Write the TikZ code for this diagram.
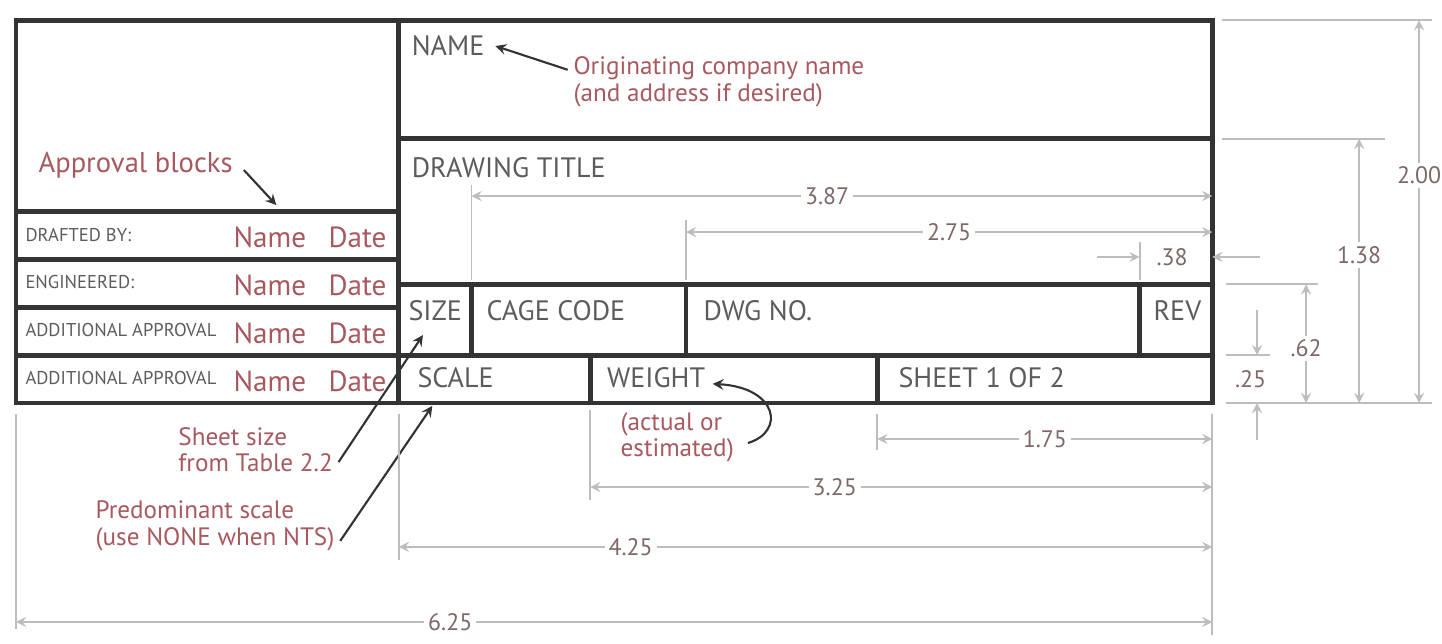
\documentclass[tikz,border=0pt]{standalone}
\usepackage{fontspec}
\setmainfont{PT Sans}
\usepackage{xcolor}
\usetikzlibrary{arrows, positioning}

\definecolor{framegray}{HTML}{333333}
\definecolor{labelgray}{HTML}{5C5C5C}
\definecolor{notered}{HTML}{A8585F}
\definecolor{dimgray}{HTML}{BDBDBD}
\definecolor{dimtext}{HTML}{7D6868}

\begin{document}
\begin{tikzpicture}[x=1in, y=1in,
    frame/.style={draw=framegray, line width=1.8pt},
    field/.style={anchor=west, inner sep=0pt, text=labelgray, font=\fontsize{10.6}{12}\selectfont},
    tiny/.style={anchor=west, inner sep=0pt, text=labelgray, font=\fontsize{7}{8}\selectfont},
    entry/.style={anchor=west, inner sep=0pt, text=notered, font=\fontsize{11}{12}\selectfont},
    note/.style={inner sep=0pt, text=notered, font=\fontsize{9.5}{10}\selectfont},
    arrow/.style={->, >=stealth, thick, draw=framegray},
    dimline/.style={<->, >=stealth, draw=dimgray, line width=0.7pt},
    extline/.style={draw=dimgray, line width=0.7pt},
    dimlabel/.style={fill=white, inner sep=1.5pt, text=dimtext, font=\fontsize{9}{10}\selectfont}
]
\useasboundingbox (-0.0836,-1.259) rectangle (7.450,2.1055);

% Title block frame
\draw[frame] (0,0) rectangle (6.25,2.00);
\draw[frame] (2.00,0) -- (2.00,2.00);
\draw[frame] (2.00,1.38) -- (6.25,1.38);
\draw[frame] (2.00,0.62) -- (6.25,0.62);
\draw[frame] (0,0.25) -- (6.25,0.25);
\draw[frame] (0,0.50) -- (2.00,0.50);
\draw[frame] (0,0.75) -- (2.00,0.75);
\draw[frame] (0,1.00) -- (2.00,1.00);
\draw[frame] (2.38,0.25) -- (2.38,0.62);
\draw[frame] (3.50,0.25) -- (3.50,0.62);
\draw[frame] (5.87,0.25) -- (5.87,0.62);
\draw[frame] (3.00,0) -- (3.00,0.25);
\draw[frame] (4.50,0) -- (4.50,0.25);

% Approval blocks
\node[note, anchor=west, font=\fontsize{10.8}{12}\selectfont] (approval) at (0.115,1.245) {Approval blocks};
\node[tiny] (drafted) at (0.047,0.88) {DRAFTED BY:};
\node[tiny] (engineered) at (0.047,0.63) {ENGINEERED:};
\node[tiny] (addl1) at (0.047,0.38) {ADDITIONAL APPROVAL};
\node[tiny] (addl2) at (0.047,0.13) {ADDITIONAL APPROVAL};
\node[entry] (name1) at (1.134,0.865) {Name};
\node[entry] (date1) at (1.630,0.865) {Date};
\node[entry] (name2) at (1.134,0.615) {Name};
\node[entry] (date2) at (1.630,0.615) {Date};
\node[entry] (name3) at (1.134,0.365) {Name};
\node[entry] (date3) at (1.630,0.365) {Date};
\node[entry] (name4) at (1.134,0.115) {Name};
\node[entry] (date4) at (1.630,0.115) {Date};

% Title block fields
\node[field] (name) at (2.065,1.865) {NAME};
\node[field] (title) at (2.065,1.228) {DRAWING TITLE};
\node[field] (size) at (2.048,0.48) {SIZE};
\node[field] (cage) at (2.456,0.48) {CAGE CODE};
\node[field] (dwg) at (3.590,0.48) {DWG NO.};
\node[field] (rev) at (5.94,0.48) {REV};
\node[field] (scale) at (2.095,0.13) {SCALE};
\node[field] (weight) at (3.085,0.13) {WEIGHT};
\node[field] (sheet) at (4.608,0.13) {SHEET 1 OF 2};

% Notes
\node[note, anchor=north west, align=left] (company) at (2.910,1.81) {Originating company name\\(and address if desired)};
\node[note, anchor=north west, align=left] (weightnote) at (3.156,-0.045) {(actual or\\estimated)};
\node[note, anchor=north west, align=left] (sheetsize) at (0.846,-0.125) {Sheet size\\from Table 2.2};
\node[note, anchor=north west, align=left] (predom) at (0.413,-0.51) {Predominant scale\\(use NONE when NTS)};

\coordinate (apptip) at (1.36,1.034);
\coordinate (sizetip) at (2.126,0.355);
\coordinate (scaletip) at (2.175,-0.015);
\coordinate (wstart) at (3.824,-0.209);
\coordinate (wtip) at (3.64,0.10);

\draw[arrow] ([xshift=4pt,yshift=-2pt]approval.east) -- (apptip);
\draw[arrow] ([xshift=-2pt,yshift=-5pt]company.north west) -- ([xshift=4pt]name.east);
\draw[arrow] ([xshift=2pt,yshift=4pt]sheetsize.south east) -- (sizetip);
\draw[arrow] ([xshift=2pt,yshift=4pt]predom.south east) -- (scaletip);
\draw[arrow] (wstart) .. controls (4.02,-0.15) and (3.98,0.08) .. (wtip);

% Dimension extension lines
\draw[extline] (2.38,1.14) -- (2.38,0.64);
\draw[extline] (3.50,0.956) -- (3.50,0.64);
\draw[extline] (5.87,0.84) -- (5.87,0.64);
\draw[extline] (0,-0.06) -- (0,-1.18);
\draw[extline] (2.00,-0.06) -- (2.00,-0.82);
\draw[extline] (3.00,-0.035) -- (3.00,-0.505);
\draw[extline] (4.50,-0.06) -- (4.50,-0.245);
\draw[extline] (6.25,-0.06) -- (6.25,-1.212);
\draw[extline] (6.30,2.00) -- (7.40,2.00);
\draw[extline] (6.30,1.38) -- (7.15,1.38);
\draw[extline] (6.32,0.62) -- (6.80,0.62);
\draw[extline] (6.32,0.25) -- (6.55,0.25);
\draw[extline] (6.32,0) -- (7.40,0);

% Horizontal dimensions
\coordinate (d387a) at (2.38,1.081);  \coordinate (d387b) at (6.25,1.081);
\coordinate (d275a) at (3.50,0.893);  \coordinate (d275b) at (6.25,0.893);
\coordinate (d175a) at (4.50,-0.188); \coordinate (d175b) at (6.25,-0.188);
\coordinate (d325a) at (3.00,-0.439); \coordinate (d325b) at (6.25,-0.439);
\coordinate (d425a) at (2.00,-0.752); \coordinate (d425b) at (6.25,-0.752);
\coordinate (d625a) at (0,-1.144);    \coordinate (d625b) at (6.25,-1.144);
\draw[dimline] (d387a) -- node[dimlabel, pos=0.48] {3.87} (d387b);
\draw[dimline] (d275a) -- node[dimlabel] {2.75} (d275b);
\draw[dimline] (d175a) -- node[dimlabel] {1.75} (d175b);
\draw[dimline] (d325a) -- node[dimlabel, pos=0.393] {3.25} (d325b);
\draw[dimline] (d425a) -- node[dimlabel, pos=0.285] {4.25} (d425b);
\draw[dimline] (d625a) -- node[dimlabel, pos=0.363] {6.25} (d625b);

% .38 from outside
\coordinate (d38a) at (5.648,0.763); \coordinate (d38b) at (5.87,0.763);
\coordinate (d38c) at (6.50,0.763);  \coordinate (d38d) at (6.25,0.763);
\draw[extline, ->, >=stealth] (d38a) -- (d38b);
\draw[extline, ->, >=stealth] (d38c) -- (d38d);
\node[dimlabel] (l38) at (6.04,0.763) {.38};

% Vertical dimensions
\coordinate (d200a) at (7.33,2.00);  \coordinate (d200b) at (7.33,0);
\coordinate (d138a) at (7.017,1.38); \coordinate (d138b) at (7.017,0);
\coordinate (d62a) at (6.74,0.62);   \coordinate (d62b) at (6.74,0);
\draw[dimline] (d200a) -- node[dimlabel, pos=0.405] {2.00} (d200b);
\draw[dimline] (d138a) -- node[dimlabel, pos=0.44] {1.38} (d138b);
\draw[dimline] (d62a) -- node[dimlabel, pos=0.54] {.62} (d62b);

% .25 from outside
\coordinate (d25a) at (6.484,0.486); \coordinate (d25b) at (6.484,0.25);
\coordinate (d25c) at (6.484,-0.193); \coordinate (d25d) at (6.484,0);
\draw[extline, ->, >=stealth] (d25a) -- (d25b);
\draw[extline, ->, >=stealth] (d25c) -- (d25d);
\node[dimlabel, fill=none] (l25) at (6.45,0.125) {.25};

\end{tikzpicture}
\end{document}
